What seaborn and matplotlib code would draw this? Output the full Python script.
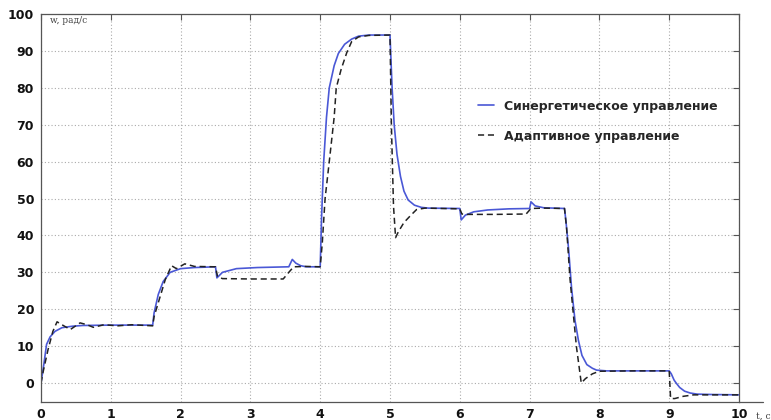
import matplotlib
matplotlib.use("Agg")
import pandas as pd
import seaborn as sns
import matplotlib.pyplot as plt

# Synergetic control (blue solid)
t_syn = [0, 0.04, 0.08, 0.13, 0.2, 0.3, 0.45, 0.6, 1.0, 1.6, 1.62, 1.68, 1.75, 1.85, 2.0, 2.2,
         2.5, 2.52, 2.6, 2.8, 3.1, 3.55, 3.6, 3.65, 3.72, 3.8, 4.0, 4.02, 4.05, 4.09, 4.13, 4.2,
         4.26, 4.35, 4.45, 4.55, 4.7, 5.0, 5.03, 5.06, 5.1, 5.15, 5.2, 5.26, 5.35, 5.45, 5.55,
         6.0, 6.02, 6.08, 6.2, 6.4, 6.7, 7.0, 7.02, 7.08, 7.2, 7.5, 7.52, 7.56, 7.6, 7.65, 7.7,
         7.75, 7.82, 7.9, 7.96, 8.1, 8.5, 9.0, 9.03, 9.07, 9.1, 9.15, 9.22, 9.3, 9.4, 9.6, 10.0]
w_syn = [0, 5, 10.5, 12.5, 14, 15, 15.4, 15.6, 15.7, 15.7, 19, 24, 27.5, 30, 31, 31.3,
         31.5, 28.5, 30, 31, 31.3, 31.5, 33.5, 32.5, 31.8, 31.5, 31.5, 45, 60, 72, 80, 86,
         89.3, 91.8, 93.2, 94, 94.3, 94.3, 80, 70, 62, 56, 52, 49.6, 48.2, 47.6, 47.4,
         47.3, 44.2, 45.5, 46.4, 46.9, 47.2, 47.3, 49.1, 48, 47.5, 47.3, 44, 36, 26, 17, 11.5,
         7.5, 5, 4, 3.5, 3.3, 3.3, 3.3, 2.5, 0.8, 0, -1.2, -2.2, -2.7, -3, -3.1, -3.2]

# Adaptive control (black dashed)
t_ad = [0, 0.03, 0.1, 0.17, 0.23, 0.3, 0.42, 0.56, 0.66, 0.75, 0.9, 1.1, 1.3, 1.6, 1.62,
        1.7, 1.78, 1.87, 1.94, 2.06, 2.2, 2.5, 2.53, 2.6, 3.0, 3.47, 3.55, 3.62, 3.8, 4.0,
        4.03, 4.07, 4.13, 4.2, 4.23, 4.3, 4.38, 4.45, 4.55, 4.7, 5.0, 5.02, 5.05, 5.08, 5.12,
        5.2, 5.3, 5.38, 5.5, 6.0, 6.03, 6.1, 6.5, 6.95, 7.02, 7.2, 7.5, 7.53, 7.58, 7.62,
        7.67, 7.74, 7.8, 7.9, 8.0, 8.5, 9.0, 9.02, 9.08, 9.2, 9.35, 9.6, 10.0]
w_ad = [0, 3, 9, 14, 16.6, 15.8, 14.5, 16.3, 15.8, 15.1, 15.8, 15.5, 15.8, 15.5, 18,
        23, 28, 31.8, 31, 32.3, 31.6, 31.5, 28.8, 28.3, 28.2, 28.2, 30, 31.5, 31.6, 31.5,
        38, 50, 60, 72, 80, 85, 89.5, 92.5, 93.8, 94.2, 94.3, 70, 48, 39.4, 41,
        43.5, 45.5, 47, 47.4, 47.2, 45.8, 45.7, 45.7, 45.8, 47.3, 47.4, 47.3, 42, 28, 20,
        10, 0, 1.2, 2.5, 3.2, 3.3, 3.3, -4.2, -4.2, -3.6, -3.2, -3.2, -3.2]

labels = ["Синергетическое управление", "Адаптивное управление"]
x_ticks = list(range(0, 11))
y_ticks = list(range(0, 101, 10))

sns.set_style("white")
plt.rcParams["font.family"] = ["DejaVu Sans"]

syn = pd.DataFrame({"t": t_syn, "w": w_syn})
ad = pd.DataFrame({"t": t_ad, "w": w_ad})

fig = plt.figure(figsize=(7.71, 4.20), dpi=100)
ax = fig.add_axes([41 / 771, 18.5 / 420, 698 / 771, 387.5 / 420])

sns.lineplot(data=syn, x="t", y="w", sort=False, estimator=None, ax=ax,
             color="#4a58d6", linewidth=1.2, label=labels[0])
sns.lineplot(data=ad, x="t", y="w", sort=False, estimator=None, ax=ax,
             color="#222222", linewidth=1.1, linestyle=(0, (4, 2.5)), label=labels[1])

ax.set_xlim(0, 10)
ax.set_ylim(-5, 100)
ax.set_xticks(x_ticks)
ax.set_yticks(y_ticks)
ax.set_xlabel("")
ax.set_ylabel("")
ax.grid(True, color="#aaaaaa", linestyle=(0, (1, 2)), linewidth=0.8)

for s in ax.spines.values():
    s.set_visible(True)
    s.set_color("#555555")
    s.set_linewidth(0.9)
ax.tick_params(direction="in", length=4, width=0.8, color="#555555",
               top=True, right=True, labelsize=9, pad=5)
for lab in ax.get_xticklabels() + ax.get_yticklabels():
    lab.set_fontweight("bold")
    lab.set_color("#111111")

# axis line extending past the right border
ax.plot([1, 1.035], [0, 0], transform=ax.transAxes, clip_on=False,
        color="#555555", linewidth=0.9)
ax.text(1.025, -0.025, "t, c", transform=ax.transAxes, fontsize=6.5,
        color="#444444", ha="left", va="top", family="DejaVu Serif")
ax.text(0.013, 0.995, "w, рад/с", transform=ax.transAxes, fontsize=6.5,
        color="#444444", ha="left", va="top", family="DejaVu Serif")

leg = ax.legend(loc="upper left", bbox_to_anchor=(0.617, 0.795), frameon=False,
                handlelength=1.3, handletextpad=0.8, labelspacing=1.35,
                borderpad=0, prop={"weight": "bold", "size": 9})

fig.savefig("out.png", dpi=100, facecolor="white")
